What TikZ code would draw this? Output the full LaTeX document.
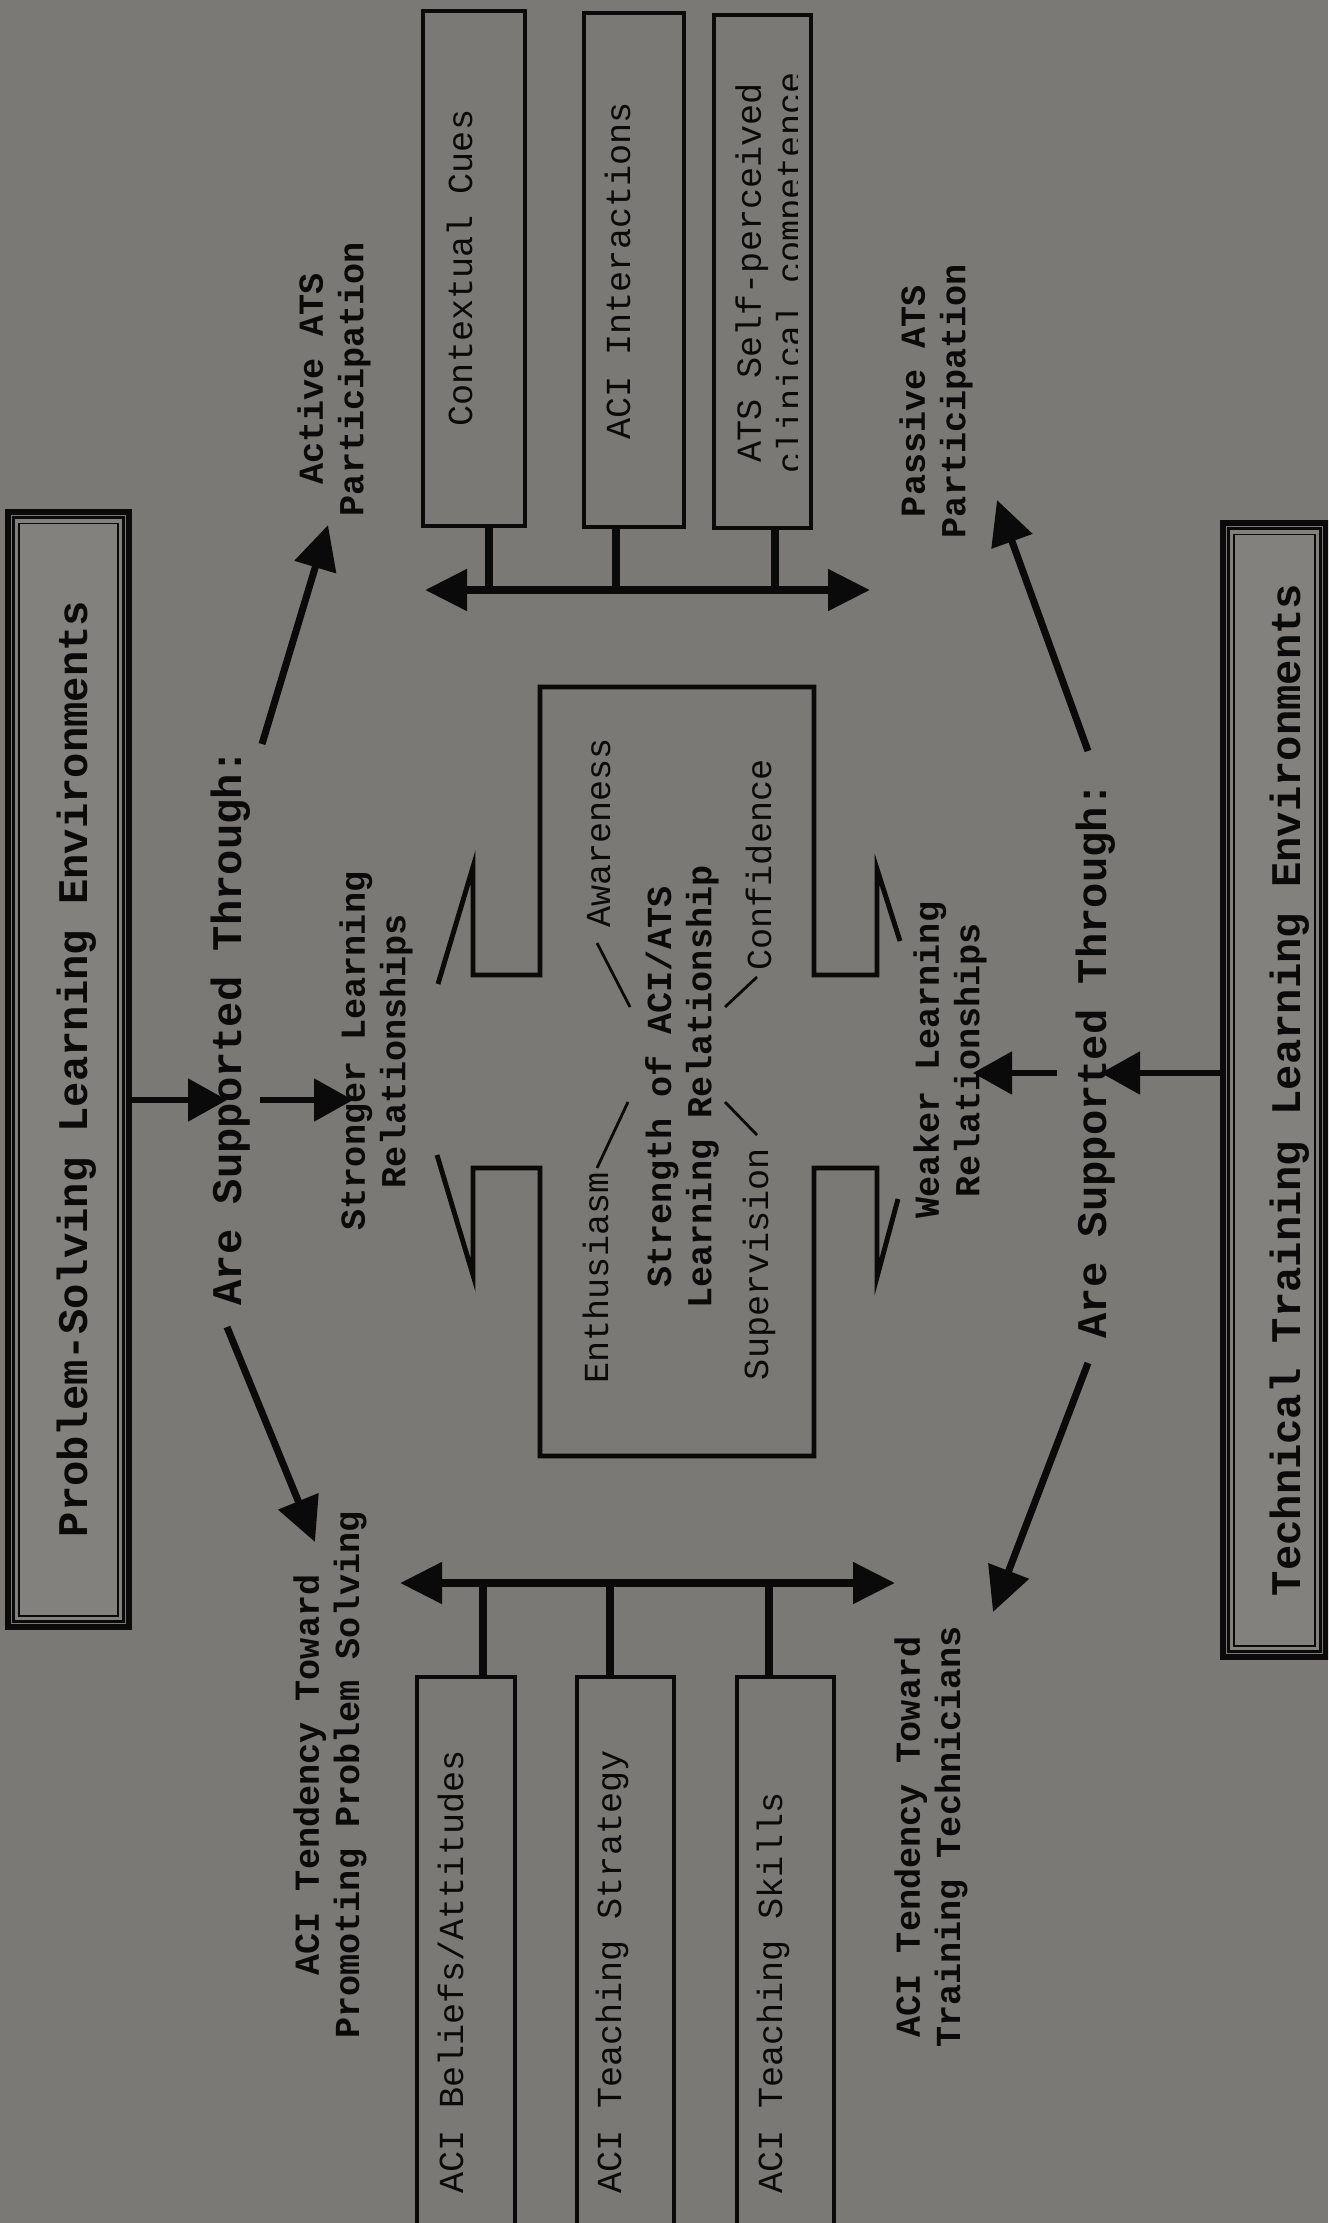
\documentclass[tikz,border=0pt]{standalone}
\usepackage{fontspec}
\setmainfont{Liberation Mono}
\usetikzlibrary{arrows.meta}

\definecolor{paper}{RGB}{123,121,117}
\definecolor{panel}{RGB}{131,129,125}
\definecolor{ink}{RGB}{10,10,10}

\tikzset{
  vtext/.style={rotate=90, inner sep=0pt, text=ink, font=\fontsize{10}{11.5}\selectfont},
  vbold/.style={vtext, align=center, font=\fontsize{10}{11.5}\selectfont\bfseries},
  vhead/.style={vtext, font=\fontsize{12}{14}\selectfont\bfseries},
  titleframe/.style={draw=ink, line width=1.5pt, inner sep=0pt},
  itembox/.style={draw=ink, line width=0.9pt, inner sep=0pt},
  fatarrow/.style={draw=ink, line width=2pt, -{Triangle[length=4.4mm,width=4.2mm]}},
  linkarrow/.style={draw=ink, line width=1.5pt, -{Triangle[length=3.9mm,width=4.2mm]}},
  busline/.style={draw=ink, line width=2.3pt, {Triangle[length=4.2mm,width=4mm]}-{Triangle[length=4.2mm,width=4mm]}},
  stemline/.style={draw=ink, line width=2.3pt},
  crossline/.style={draw=ink, line width=1.4pt},
  spoke/.style={draw=ink, line width=0.8pt}
}

\begin{document}
\begin{tikzpicture}[x=0.1mm, y=-0.1mm]
\useasboundingbox (0,0) rectangle (1328,2223);
\clip (0,0) rectangle (1328,2223);
\fill[paper] (0,0) rectangle (1328,2223);

% environment frames
\node[titleframe, minimum width=12.1mm, minimum height=111.5mm] (psframe) at (68.5,1069.5) {};
\node[titleframe, minimum width=10.3mm, minimum height=113.4mm] (ttframe) at (1274.5,1090) {};
\foreach \f in {psframe,ttframe} {
  \draw[ink, line width=0.8pt, fill=panel] ([shift={(0.8mm,-0.8mm)}]\f.north west) rectangle ([shift={(-0.8mm,0.8mm)}]\f.south east);
  \draw[ink, line width=0.5pt] ([shift={(1.4mm,-1.4mm)}]\f.north west) rectangle ([shift={(-1.4mm,1.4mm)}]\f.south east);
}
\node[vhead, anchor=base] (pstitle) at (88,1069) {Problem-Solving Learning Environments};
\node[vhead, anchor=base] (tttitle) at (1300,1090) {Technical Training Learning Environments};

\node[vhead, anchor=base] (psthrough) at (241,1027) {Are Supported Through:};
\node[vhead, anchor=base] (ttthrough) at (1106,1060) {Are Supported Through:};

% outcome labels
\node[vbold] (active)    at (334,379)  {Active ATS\\Participation};
\node[vbold] (passive)   at (936,401)  {Passive ATS\\Participation};
\node[vbold] (stronger)  at (376,1051) {Stronger Learning\\Relationships};
\node[vbold] (weaker)    at (950,1060) {Weaker Learning\\Relationships};
\node[vbold] (promoting) at (330,1775) {ACI Tendency Toward\\Promoting Problem Solving};
\node[vbold] (training)  at (931,1837) {ACI Tendency Toward\\Training Technicians};

% arrows
\coordinate (psa) at (227,1100);
\coordinate (psb0) at (260,1100);
\coordinate (psb) at (353,1100);
\coordinate (tta) at (1101,1073);
\coordinate (ttb0) at (1057,1073);
\coordinate (ttb) at (973,1073);
\draw[linkarrow] (psframe.east |- psa) -- (psa);
\draw[linkarrow] (psb0) -- (psb);
\draw[linkarrow] (ttframe.west |- tta) -- (tta);
\draw[linkarrow] (ttb0) -- (ttb);

\coordinate (pa0) at (262,744);
\coordinate (pa) at (328,525);
\coordinate (pp0) at (227,1327);
\coordinate (pp) at (315,1542);
\coordinate (ta0) at (1088,751);
\coordinate (ta) at (997,500);
\coordinate (tp0) at (1088,1363);
\coordinate (tp) at (993,1612);
\draw[fatarrow] (pa0) -- (pa);
\draw[fatarrow] (pp0) -- (pp);
\draw[fatarrow] (ta0) -- (ta);
\draw[fatarrow] (tp0) -- (tp);

% top boxes
\node[itembox, minimum width=10.2mm, minimum height=51.5mm] (cues) at (474,268.5) {};
\node[itembox, minimum width=10.0mm, minimum height=51.4mm] (interact) at (634,270) {};
\node[itembox, minimum width=9.7mm, minimum height=51.3mm] (selfperc) at (762.5,271.5) {};
\node[vtext, anchor=base] (cuestext) at (472,268) {Contextual Cues};
\node[vtext, anchor=base] (interacttext) at (630,271) {ACI Interactions};
\begin{scope}
  \clip (714,15) rectangle (797,528);
  \node[vtext, align=center] (selfperctext) at (772,273) {ATS Self-perceived\\clinical competence};
\end{scope}

\coordinate (topbusL) at (425,590);
\coordinate (topbusR) at (870,590);
\draw[stemline] ([xshift=1.5mm]cues.south) -- ([xshift=1.5mm]cues.south |- topbusL);
\draw[stemline] ([xshift=-1.8mm]interact.south) -- ([xshift=-1.8mm]interact.south |- topbusL);
\draw[stemline] ([xshift=1.25mm]selfperc.south) -- ([xshift=1.25mm]selfperc.south |- topbusL);
\draw[busline] (topbusL) -- (topbusR);

% bottom boxes
\node[itembox, minimum width=9.8mm, minimum height=56.3mm] (beliefs) at (466,1958.5) {};
\node[itembox, minimum width=9.7mm, minimum height=56.3mm] (strategy) at (625.5,1958.5) {};
\node[itembox, minimum width=9.7mm, minimum height=56.3mm] (skills) at (785.5,1958.5) {};
\node[vtext, anchor=base west] (beliefstext) at (463,2194) {ACI Beliefs/Attitudes};
\node[vtext, anchor=base west] (strategytext) at (621,2194) {ACI Teaching Strategy};
\node[vtext, anchor=base west] (skillstext) at (782,2194) {ACI Teaching Skills};

\coordinate (botbusL) at (400,1583);
\coordinate (botbusR) at (895,1583);
\draw[stemline] ([xshift=1.7mm]beliefs.north) -- ([xshift=1.7mm]beliefs.north |- botbusL);
\draw[stemline] ([xshift=-1.55mm]strategy.north) -- ([xshift=-1.55mm]strategy.north |- botbusL);
\draw[stemline] ([xshift=-1.65mm]skills.north) -- ([xshift=-1.65mm]skills.north |- botbusL);
\draw[busline] (botbusL) -- (botbusR);

% central cross
\draw[crossline] (438,984) -- (473,867) -- (473,975) -- (540,975) -- (540,687)
  -- (814,687) -- (814,975) -- (877,975) -- (877,869) -- (900,941);
\draw[crossline] (437,1155) -- (473,1275) -- (473,1168) -- (540,1168) -- (540,1456)
  -- (814,1456) -- (814,1168) -- (877,1168) -- (877,1277) -- (898,1199);

\node[vbold] (strength) at (682,1087) {Strength of ACI/ATS\\Learning Relationship};
\node[vtext, anchor=base] (awareness) at (610,833) {Awareness};
\node[vtext, anchor=base] (confidence) at (771,865) {Confidence};
\node[vtext, anchor=base] (enthusiasm) at (608,1278) {Enthusiasm};
\node[vtext, anchor=base] (supervision) at (768,1264) {Supervision};

\coordinate (s1) at (630,1007);
\coordinate (s2) at (725,1007);
\coordinate (s3) at (628,1102);
\coordinate (s4) at (725,1102);
\draw[spoke] (597,943) -- (s1);
\draw[spoke] (757,977) -- (s2);
\draw[spoke] (597,1168) -- (s3);
\draw[spoke] (757,1135) -- (s4);
\end{tikzpicture}
\end{document}
